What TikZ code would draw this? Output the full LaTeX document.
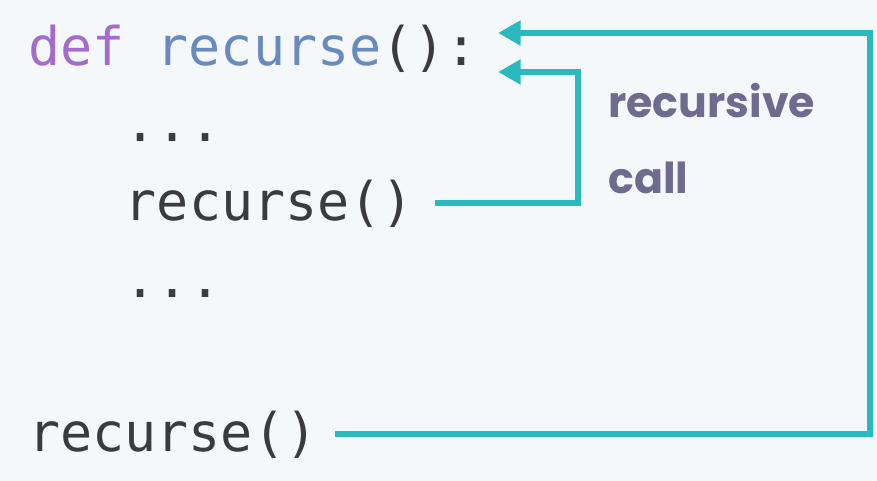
\documentclass[tikz,border=0pt]{standalone}
\usepackage{fontspec}
\setmonofont{DejaVu Sans Mono}
\newfontfamily\lblfont{Poppins}
\usetikzlibrary{arrows.meta}

\definecolor{bgpaper}{RGB}{245,248,251}
\definecolor{flowteal}{RGB}{42,186,190}
\definecolor{kwpurple}{RGB}{163,108,204}
\definecolor{fnblue}{RGB}{104,138,190}
\definecolor{codegray}{RGB}{58,58,64}
\definecolor{lblgray}{RGB}{110,107,142}

\tikzset{
  code/.style={anchor=base west, inner sep=0pt, text=codegray,
    font=\ttfamily\fontsize{40}{48}\selectfont},
  lbl/.style={anchor=base west, inner sep=0pt, text=lblgray,
    font=\lblfont\bfseries\fontsize{32}{40}\selectfont},
  flow/.style={draw=flowteal, line width=4.2pt, line join=miter,
    -{Triangle[length=17pt, width=18pt]}},
}

\begin{document}
\begin{tikzpicture}[x=0.75pt,y=0.75pt,yscale=-1,xscale=1]
	% background
	\fill[bgpaper] (0,0) rectangle (877,481);
	
	% code lines
	\node[code] (defline) at (28,66) {\textcolor{kwpurple}{def} \textcolor{fnblue}{recurse}():};
	\node[code] (dotsA) at (124.6,142) {...};
	\node[code] (inner) at (124.6,220) {recurse()};
	\node[code] (dotsB) at (124.6,297) {...};
	\node[code] (outer) at (28,451) {recurse()};
	
	% label
	\node[lbl] (lblA) at (608,118) {recursive};
	\node[lbl] (lblB) at (608,193) {call};
	
	% bends
	\coordinate (innerbend) at (578,72);
	\coordinate (outerbend) at (870,33);
	
	% arrows back to the definition
	\draw[flow] ([xshift=16pt]inner.east) -| (innerbend) -- ([xshift=15pt]defline.east |- innerbend);
	\draw[flow] ([xshift=13pt]outer.east) -| (outerbend) -- ([xshift=15pt]defline.east |- outerbend);
\end{tikzpicture}
\end{document}
